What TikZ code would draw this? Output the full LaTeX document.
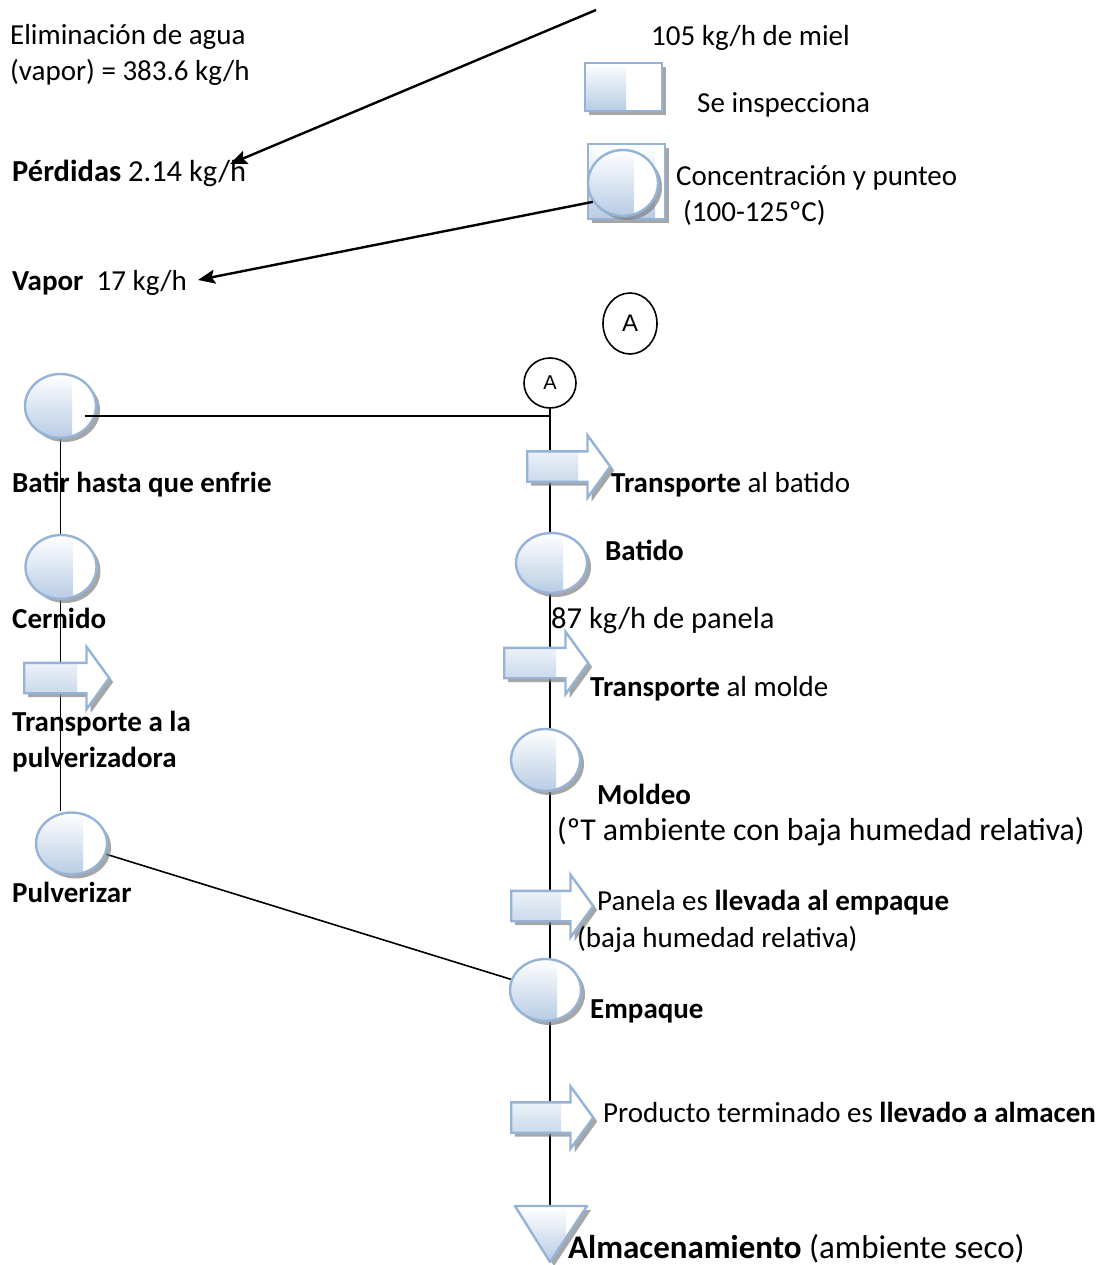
\documentclass[tikz,border=0pt]{standalone}
\usepackage{fontspec}
\setmainfont{Carlito}
\newfontfamily\arialfont{Liberation Sans}
\usetikzlibrary{shapes.geometric,shapes.arrows,shadows,arrows.meta,backgrounds}
\definecolor{opline}{RGB}{149,179,215}
\definecolor{opfill}{RGB}{184,204,228}
\definecolor{opshadow}{RGB}{128,128,128}

\tikzset{
  opshape/.style={draw=opline, line width=2.4pt, fill=white, inner sep=0pt,
    drop shadow={shadow xshift=4pt, shadow yshift=-4pt, fill=opshadow, opacity=0.7},
    path picture={\shade[top color=white, bottom color=opfill]
      (path picture bounding box.north west) rectangle ([xshift=-#1]path picture bounding box.south east);}},
  opcirc/.style args={#1/#2}{opshape=24pt, ellipse, minimum width=#1pt, minimum height=#2pt},
  oparrow/.style={opshape=32pt, single arrow, single arrow head extend=16pt,
    single arrow tip angle=108, minimum height=#1pt, text height=28pt, text depth=0pt, anchor=tail},
  opbox/.style={opshape=36pt, rectangle, minimum width=77pt, minimum height=48pt},
  conn/.style={draw=black, line width=1.6pt},
  flowarrow/.style={draw=black, line width=2.4pt, -{Stealth[length=17pt,width=14pt,inset=3pt]}},
  linkcirc/.style={draw=black, line width=1.6pt, ellipse, inner sep=0pt},
  txt/.style={anchor=base west, inner sep=0pt, font=\fontsize{29}{36}\selectfont},
  bigtxt/.style={txt, font=\fontsize{#1}{36}\selectfont},
}

\begin{document}
\begin{tikzpicture}[x=1pt,y=-1pt]
\useasboundingbox (0,0) rectangle (1114,1265);

% ---- upper part: concentration of the syrup ----
\node[opbox] (insp) at (623.5,87) {};
\node[opshape=10pt, rectangle, minimum width=77pt, minimum height=75pt] (concsq) at (626.5,181.5) {};
\node[opcirc=70/66] (conc) at (623,183) {};

\coordinate (feedin) at (596,10);
\coordinate (perdtip) at (230,164);
\coordinate (vaportip) at (198,280);
\draw[flowarrow] (feedin) -- (perdtip);
\draw[flowarrow] (conc.212) -- (vaportip);

\node[txt] (elim) at (10,45) {Eliminación de agua};
\node[txt] (vap1) at (10,81) {(vapor) = 383.6 kg/h};
\node[bigtxt=30.5] (perd) at (12,182) {\textbf{Pérdidas} 2.14 kg/h};
\node[txt] (vapor) at (12,290) {\textbf{Vapor}\ \ 17 kg/h};
\node[txt] (miel) at (651,46) {105 kg/h de miel};
\node[txt] (tinsp) at (697,113) {Se inspecciona};
\node[txt] (tconc) at (676,186) {Concentración y punteo};
\node[txt] (ttemp) at (683,222) {(100-125ºC)};

% ---- connectors A ----
\node[linkcirc, minimum width=54pt, minimum height=61pt,
      font=\arialfont\fontsize{24}{26}\selectfont] (A1) at (630,323.5) {A};
\node[linkcirc, minimum width=52pt, minimum height=50pt,
      font=\arialfont\fontsize{20}{22}\selectfont] (A2) at (550,383) {A};

% ---- right column ----
\node[oparrow=83] (tr1) at (526,466.5) {};
\node[opcirc=71/60] (batido) at (551.5,563) {};
\node[oparrow=84] (tr2) at (503,663) {};
\node[opcirc=69/62] (moldeo) at (545.5,760) {};
\node[oparrow=82] (tr3) at (510,906) {};
\node[opcirc=71/62] (empaque) at (545.5,990) {};
\node[oparrow=82] (tr4) at (510,1117.5) {};

% storage triangle
\coordinate (triTop) at (550,1206);
\fill[opshadow, opacity=0.7] (519,1210) -- (591,1210) -- (554,1266) -- cycle;
\begin{scope}
  \clip (515,1206) -- (587,1206) -- (550,1262) -- cycle;
  \fill[white] (515,1206) rectangle (587,1262);
  \shade[top color=white, bottom color=opfill] (515,1206) rectangle (566,1262);
\end{scope}
\draw[draw=opline, line width=2.4pt, line join=round] (515,1206) -- (587,1206) -- (550,1262) -- cycle;

% ---- left column ----
\node[opcirc=71/64] (batir) at (60.5,406) {};
\node[opcirc=71/64] (cern) at (61,567) {};
\node[oparrow=85] (trl) at (23,678) {};
\node[opcirc=71/62] (pulv) at (71.5,843.5) {};

\begin{pgfonlayer}{background}
  \draw[conn] (A2.south) -- (triTop);
  \draw[conn] (batir.south) -- (batir.south |- pulv.north);
  \draw[conn] (pulv.center) -- (empaque.center);
\end{pgfonlayer}
\coordinate (batirout) at ([xshift=24pt,yshift=-10pt]batir.center);
\draw[conn] (batirout) -- (batirout -| A2.south);

% ---- labels ----
\node[txt] (tbatir) at (12,492) {\textbf{Batir hasta que enfrie}};
\node[txt] (tcern) at (12,628) {\textbf{Cernido}};
\node[txt] (ttrl1) at (12,731) {\textbf{Transporte a la}};
\node[txt] (ttrl2) at (12,767) {\textbf{pulverizadora}};
\node[txt] (tpulv) at (12,902) {\textbf{Pulverizar}};

\node[txt] (ttr1) at (611,492) {\textbf{Transporte} al batido};
\node[txt] (tbatido) at (605,560) {\textbf{Batido}};
\node[bigtxt=30.5] (t87) at (551,628) {87 kg/h de panela};
\node[txt] (ttr2) at (590,696) {\textbf{Transporte} al molde};
\node[txt] (tmold) at (597,804) {\textbf{Moldeo}};
\node[bigtxt=31.8] (tamb) at (557,840) {(ºT ambiente con baja humedad relativa)};
\node[txt] (ttr3) at (597,910) {Panela es \textbf{llevada al empaque}};
\node[txt] (tbaja) at (577,947) {(baja humedad relativa)};
\node[txt] (temp) at (590,1018) {\textbf{Empaque}};
\node[txt] (ttr4) at (603,1122) {Producto terminado es \textbf{llevado a almacen}};
\node[bigtxt=33] (talm) at (568,1258) {\textbf{Almacenamiento} (ambiente seco)};
\end{tikzpicture}
\end{document}
